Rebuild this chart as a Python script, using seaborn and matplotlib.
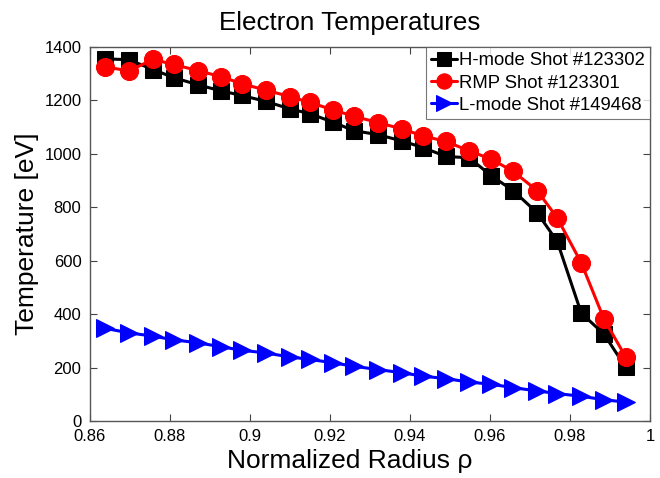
import matplotlib
matplotlib.use("Agg")
import matplotlib.pyplot as plt
import seaborn as sns
import pandas as pd

# Normalized radius grid shared by the three profiles
rho = [0.8639, 0.8698, 0.8758, 0.8810, 0.8870, 0.8929, 0.8980, 0.9040,
       0.9100, 0.9150, 0.9208, 0.9261, 0.9319, 0.9380, 0.9433, 0.9490,
       0.9548, 0.9603, 0.9658, 0.9718, 0.9768, 0.9828, 0.9885, 0.9939]

# Electron temperatures [eV]
te_hmode = [1355, 1352, 1315, 1285, 1258, 1235, 1218, 1196,
            1168, 1150, 1118, 1086, 1072, 1048, 1023, 990,
            985, 918, 862, 779, 672, 404, 325, 201]
te_rmp = [1325, 1310, 1353, 1334, 1311, 1288, 1262, 1238,
          1214, 1192, 1164, 1140, 1117, 1093, 1067, 1046,
          1011, 980, 934, 862, 760, 592, 381, 240]
te_lmode = [347, 330, 318, 304, 293, 278, 265, 255,
            240, 231, 218, 205, 193, 181, 168, 159,
            146, 138, 125, 113, 103, 93, 80, 71]

labels = ["H-mode Shot #123302", "RMP Shot #123301", "L-mode Shot #149468"]
colors = ["#000000", "#ff0000", "#0000ff"]
markers = ["s", "o", ">"]
msizes = [12, 13, 13]

sns.set_style("white")
plt.rcParams["font.family"] = ["Liberation Sans", "DejaVu Sans"]
plt.rcParams["text.color"] = "black"
plt.rcParams["axes.labelcolor"] = "black"

fig = plt.figure(figsize=(6.6, 4.78), dpi=100)
ax = fig.add_axes([0.136, 0.119, 0.849, 0.783])

for vals, lab, col, mk, ms in zip([te_hmode, te_rmp, te_lmode], labels, colors, markers, msizes):
    df = pd.DataFrame({"rho": rho, "Te": vals})
    sns.lineplot(data=df, x="rho", y="Te", ax=ax, color=col, marker=mk,
                 markersize=ms, markeredgecolor=col, linewidth=2.2, label=lab)

ax.set_xlim(0.86, 1.0)
ax.set_ylim(0, 1400)
ax.set_xticks([0.86, 0.88, 0.9, 0.92, 0.94, 0.96, 0.98, 1.0])
ax.set_xticklabels(["0.86", "0.88", "0.9", "0.92", "0.94", "0.96", "0.98", "1"])
ax.set_yticks(range(0, 1401, 200))
ax.tick_params(direction="in", length=5, width=0.8, colors="#444444",
               labelcolor="black", labelsize=12, top=True, right=True,
               bottom=True, left=True, pad=6)
for sp in ax.spines.values():
    sp.set_color("#555555")
    sp.set_linewidth(1.0)

ax.set_title("Electron Temperatures", fontsize=18.7, pad=12, x=0.464, color="black")
ax.set_xlabel("Normalized Radius ρ", fontsize=19, labelpad=2, color="black")
ax.xaxis.set_label_coords(0.464, -0.075)
ax.set_ylabel("Temperature [eV]", fontsize=19, labelpad=4, color="black")

leg = ax.legend(loc="upper right", fontsize=13.3, frameon=True, fancybox=False,
                handlelength=1.4, handletextpad=0.1, borderpad=0.3,
                labelspacing=0.28, borderaxespad=0.0, markerscale=0.85)
for t in leg.get_texts():
    t.set_color("black")
leg.get_frame().set_edgecolor("#555555")
leg.get_frame().set_linewidth(0.8)

fig.savefig("out.png", dpi=100)
